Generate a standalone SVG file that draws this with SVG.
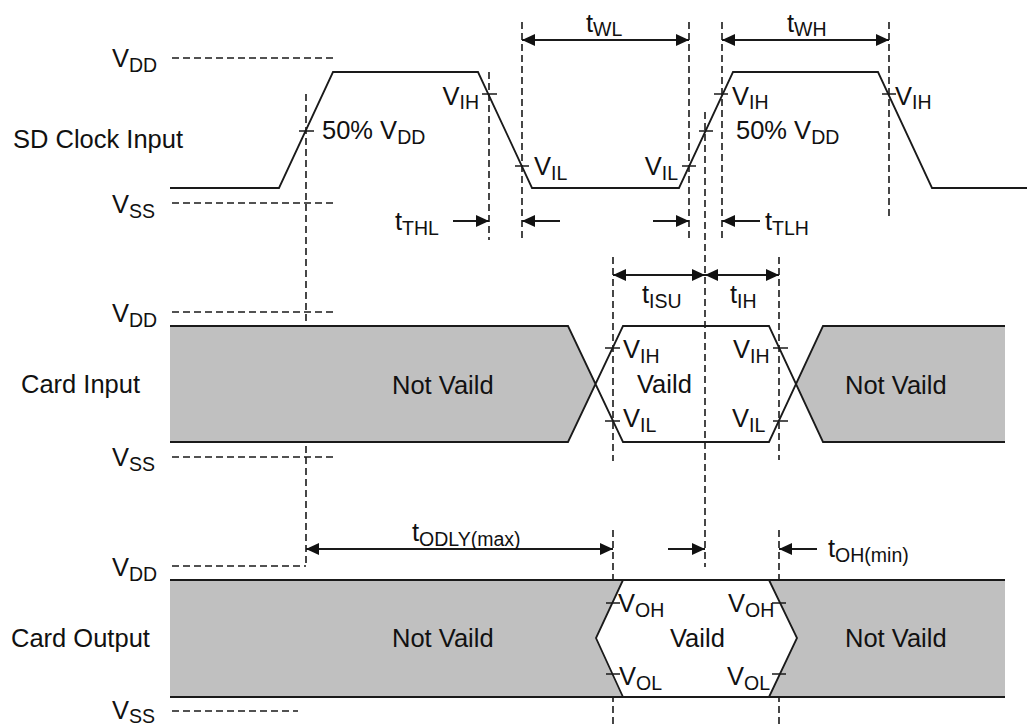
<svg xmlns="http://www.w3.org/2000/svg" width="1027" height="724" viewBox="0 0 1027 724">
<defs>
<style>
text{font-family:"Liberation Sans",Arial,sans-serif;font-size:25.5px;fill:#111}
.s{font-size:19.5px}
.w{fill:none;stroke:#1a1a1a;stroke-width:1.8}
.d{fill:none;stroke:#1a1a1a;stroke-width:1.6;stroke-dasharray:7,4}
.tk{stroke:#1a1a1a;stroke-width:1.5}
.a{fill:none;stroke:#1a1a1a;stroke-width:1.8}
.g{fill:#c0c0c0;stroke:none}
</style>
<marker id="ah" markerUnits="userSpaceOnUse" markerWidth="14" markerHeight="14" refX="13" refY="6" orient="auto-start-reverse" viewBox="0 0 14 12">
<path d="M0,0 L13,6 L0,12 z" fill="#111"/>
</marker>
</defs>
<rect width="1027" height="724" fill="#fff"/>

<g id="guides">
<path class="d" d="M172,58H334M172,203H334M172,312H334M172,457H334M172,566H306M172,711H298"/>
<path class="d" d="M306,94V566M489,72V240M522,22V238M689,22V238M705,112V567M722,22V238M889,22V220M613,257V461M613,530V724M779,257V460M779,530V724"/>
</g>

<g id="clock">
<text x="13" y="148">SD Clock Input</text>
<text x="112" y="67">V<tspan class="s" dy="5">DD</tspan></text>
<text x="112" y="213">V<tspan class="s" dy="5">SS</tspan></text>
<path class="w" d="M170,188H279L333,72H478L532,188H679L733,72H878L932,188H1027"/>
<path class="tk" d="M299,131H314M482,94H497M515,166H529M682,166H696M699,131H713M714,94H728M882,94H896"/>
<text x="322" y="139">50% V<tspan class="s" dy="5">DD</tspan></text>
<text x="736" y="139">50% V<tspan class="s" dy="5">DD</tspan></text>
<text x="479" y="105" text-anchor="end">V<tspan class="s" dy="4">IH</tspan></text>
<text x="534" y="175">V<tspan class="s" dy="5">IL</tspan></text>
<text x="678" y="175" text-anchor="end">V<tspan class="s" dy="5">IL</tspan></text>
<text x="732" y="105">V<tspan class="s" dy="4">IH</tspan></text>
<text x="895" y="105">V<tspan class="s" dy="4">IH</tspan></text>
</g>

<g id="card-input">
<text x="21" y="393">Card Input</text>
<text x="112" y="322">V<tspan class="s" dy="5">DD</tspan></text>
<text x="112" y="466">V<tspan class="s" dy="5">SS</tspan></text>
<path class="g" d="M170,326H568L596,384L568,442H170z"/>
<path class="g" d="M823,326H1005V442H823L796,384z"/>
<path class="w" d="M170,326H568L623,442H769L823,326H1005M170,442H568L623,326H769L823,442H1005"/>
<path class="tk" d="M605,348H620M605,421H620M773,348H788M773,421H788"/>
<text x="392" y="394">Not Vaild</text>
<text x="845" y="394">Not Vaild</text>
<text x="637" y="393">Vaild</text>
<text x="623" y="358">V<tspan class="s" dy="5">IH</tspan></text>
<text x="623" y="427">V<tspan class="s" dy="5">IL</tspan></text>
<text x="733" y="358">V<tspan class="s" dy="5">IH</tspan></text>
<text x="732" y="427">V<tspan class="s" dy="5">IL</tspan></text>
</g>

<g id="card-output">
<text x="11" y="647">Card Output</text>
<text x="112" y="576">V<tspan class="s" dy="5">DD</tspan></text>
<text x="112" y="719">V<tspan class="s" dy="4">SS</tspan></text>
<path class="g" d="M170,580H1005V697H170z"/>
<path d="M623,580H769L797,638L769,697H623L596,638z" fill="#fff"/>
<path class="w" d="M170,580H1005M170,697H1005M623,580L596,638L623,697M769,580L797,638L769,697"/>
<path class="tk" d="M606,603H620M606,674H620M772,603H786M772,674H786"/>
<text x="392" y="647">Not Vaild</text>
<text x="845" y="647">Not Vaild</text>
<text x="670" y="647">Vaild</text>
<text x="618" y="612">V<tspan class="s" dy="5">OH</tspan></text>
<text x="619" y="685">V<tspan class="s" dy="5">OL</tspan></text>
<text x="728" y="612">V<tspan class="s" dy="5">OH</tspan></text>
<text x="727" y="685">V<tspan class="s" dy="5">OL</tspan></text>
</g>

<g id="connectors">
<path class="a" d="M522,40H689" marker-start="url(#ah)" marker-end="url(#ah)"/>
<path class="a" d="M722,40H889" marker-start="url(#ah)" marker-end="url(#ah)"/>
<path class="a" d="M453,221H489" marker-end="url(#ah)"/>
<path class="a" d="M560,221H522" marker-end="url(#ah)"/>
<path class="a" d="M653,221H689" marker-end="url(#ah)"/>
<path class="a" d="M760,221H722" marker-end="url(#ah)"/>
<path class="a" d="M613,275H705" marker-start="url(#ah)" marker-end="url(#ah)"/>
<path class="a" d="M705,275H779" marker-start="url(#ah)" marker-end="url(#ah)"/>
<path class="a" d="M306,549H613" marker-start="url(#ah)" marker-end="url(#ah)"/>
<path class="a" d="M668,549H705" marker-end="url(#ah)"/>
<path class="a" d="M817,549H779" marker-end="url(#ah)"/>
</g>

<g id="timing-labels">
<text x="586" y="32">t<tspan class="s" dy="4">WL</tspan></text>
<text x="787" y="32">t<tspan class="s" dy="4">WH</tspan></text>
<text x="395" y="230">t<tspan class="s" dy="5">THL</tspan></text>
<text x="765" y="230">t<tspan class="s" dy="5">TLH</tspan></text>
<text x="642" y="303">t<tspan class="s" dy="5">ISU</tspan></text>
<text x="730" y="303">t<tspan class="s" dy="5">IH</tspan></text>
<text x="412" y="541">t<tspan class="s" dy="5">ODLY(max)</tspan></text>
<text x="828" y="557">t<tspan class="s" dy="5">OH(min)</tspan></text>
</g>
</svg>
